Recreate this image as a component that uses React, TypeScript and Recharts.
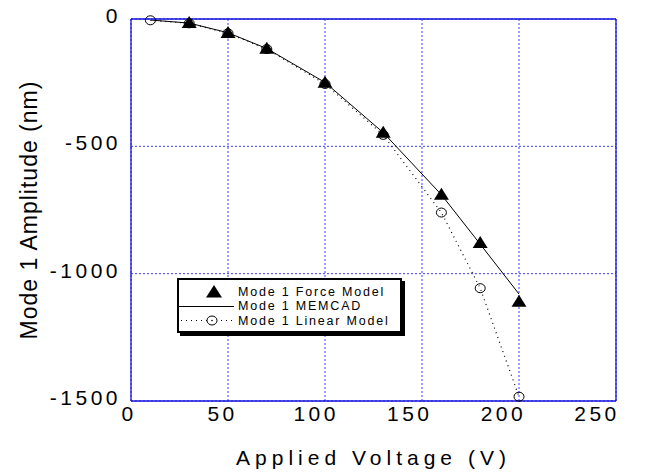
import React from "react";
import {
  ComposedChart,
  Line,
  XAxis,
  YAxis,
  CartesianGrid,
  Legend,
} from "recharts";

// values
const forceVoltage = [30, 50, 70, 100, 130, 160, 180, 200];
const forceAmplitude = [-16, -55, -117, -250, -447, -690, -880, -1110];

const memcadVoltage = [10, 30, 50, 70, 100, 130, 160, 180, 200];
const memcadAmplitude = [-4, -16, -54, -116, -249, -446, -690, -884, -1080];

const linearVoltage = [10, 30, 50, 70, 100, 130, 160, 180, 200];
const linearAmplitude = [-5, -17, -56, -118, -255, -455, -760, -1057, -1483];

const xTicks = [0, 50, 100, 150, 200, 250];
const yTicks = [0, -500, -1000, -1500];
const xMinorTicks = Array.from({ length: 26 }, (_, i) => i * 10);
const yMinorTicks = Array.from({ length: 31 }, (_, i) => -i * 50);

const seriesNames = ["Mode 1 Force Model", "Mode 1 MEMCAD", "Mode 1 Linear Model"];

const toRows = (xs: number[], ys: number[]) => xs.map((v, i) => ({ v, amp: ys[i] }));
const forceData = toRows(forceVoltage, forceAmplitude);
const memcadData = toRows(memcadVoltage, memcadAmplitude);
const linearData = toRows(linearVoltage, linearAmplitude);

const FONT = "'Liberation Sans', Arial, Helvetica, sans-serif";
const AXIS_BLUE = "#1414dc";
const GRID_BLUE = "#3c3cff";

const Triangle = (props: any) => {
  const { cx, cy, index } = props;
  if (cx == null || cy == null) return <g key={index} />;
  return (
    <polygon
      key={index}
      points={`${cx},${cy - 7} ${cx - 7.5},${cy + 5} ${cx + 7.5},${cy + 5}`}
      fill="#000"
    />
  );
};

const OpenCircle = (props: any) => {
  const { cx, cy, index } = props;
  if (cx == null || cy == null) return <g key={index} />;
  return <ellipse key={index} cx={cx} cy={cy} rx={5} ry={4.5} fill="none" stroke="#000" strokeWidth={1} />;
};

// the original's labels drift a little left of their ticks
const XTick = (props: any) => {
  const { x, y, payload } = props;
  const drift = -2 - payload.value * 0.068;
  return (
    <text x={x} y={y} dx={drift} dy={20} textAnchor="middle" fontFamily={FONT} fontSize={21} letterSpacing={3.5} fill="#000">
      {payload.value}
    </text>
  );
};

const YTick = (props: any) => {
  const { x, y, payload } = props;
  return (
    <text x={x} y={y} dy={4} textAnchor="end" fontFamily={FONT} fontSize={21} letterSpacing={3.5} fill="#000">
      {payload.value}
    </text>
  );
};

const XTitle = (props: any) => {
  const vb = props.viewBox;
  return (
    <text
      x={vb.x + vb.width / 2}
      y={vb.y + 64}
      textAnchor="middle"
      fontFamily={FONT}
      fontSize={21}
      letterSpacing={5}
      fill="#000"
    >
      Applied Voltage (V)
    </text>
  );
};

const YTitle = (props: any) => {
  const vb = props.viewBox;
  const cx = vb.x + 37;
  const cy = vb.y + vb.height / 2;
  return (
    <text
      x={cx}
      y={cy}
      transform={`rotate(-90, ${cx}, ${cy})`}
      textAnchor="middle"
      fontFamily={FONT}
      fontSize={23}
      letterSpacing={1}
      fill="#000"
    >
      Mode 1 Amplitude (nm)
    </text>
  );
};

const LegendBox = () => (
  <div
    style={{
      width: 221,
      height: 51,
      border: "2px solid #000",
      boxShadow: "3px 3px 0 #000",
      background: "#fff",
      fontFamily: FONT,
      fontSize: 12.5,
      letterSpacing: 1.8,
      color: "#000",
      position: "relative",
    }}
  >
    {seriesNames.map((name, i) => (
      <div
        key={name}
        style={{ position: "absolute", left: 0, top: 4 + i * 14.5, height: 15, display: "flex", alignItems: "center" }}
      >
        <svg width={58} height={15} style={{ display: "block" }}>
          {i === 0 && <polygon points="35,1 27,13.5 43,13.5" fill="#000" />}
          {i === 1 && <line x1={0} y1={7.5} x2={55} y2={7.5} stroke="#000" strokeWidth={1} />}
          {i === 2 && (
            <g>
              <line x1={2} y1={7.5} x2={55} y2={7.5} stroke="#000" strokeWidth={1.2} strokeDasharray="1 4" />
              <ellipse cx={33} cy={7.5} rx={5} ry={4.5} fill="#fff" stroke="#000" />
              <circle cx={33} cy={7.5} r={0.8} fill="#000" />
            </g>
          )}
        </svg>
        <span style={{ marginLeft: 1, whiteSpace: "nowrap" }}>{name}</span>
      </div>
    ))}
  </div>
);

export default function App() {
  return (
    <div style={{ position: "absolute", left: 0, top: 0, background: "#fff" }}>
      <ComposedChart width={649} height={475} margin={{ top: 19, right: 33, bottom: 0, left: 0 }}>
        <CartesianGrid
          xAxisId="x"
          yAxisId="y"
          stroke={GRID_BLUE}
          strokeDasharray="2 2"
          strokeWidth={1}
        />
        <XAxis
          xAxisId="x"
          dataKey="v"
          type="number"
          domain={[0, 250]}
          ticks={xTicks}
          interval={0}
          height={74}
          axisLine={false}
          tickLine={false}
          tickSize={0}
          tickMargin={0}
          tick={<XTick />}
          label={<XTitle />}
        />
        <XAxis
          xAxisId="xb"
          dataKey="v"
          type="number"
          orientation="bottom"
          mirror
          domain={[0, 250]}
          ticks={xMinorTicks}
          interval={0}
          tick={false}
          tickSize={4}
          stroke={AXIS_BLUE}
          strokeWidth={1.3}
        />
        <XAxis
          xAxisId="xt"
          dataKey="v"
          type="number"
          orientation="top"
          mirror
          domain={[0, 250]}
          ticks={xMinorTicks}
          interval={0}
          tick={false}
          tickSize={4}
          stroke={AXIS_BLUE}
          strokeWidth={1.3}
        />
        <YAxis
          yAxisId="y"
          type="number"
          domain={[-1500, 0]}
          ticks={yTicks}
          interval={0}
          width={131}
          axisLine={false}
          tickLine={false}
          tickSize={0}
          tickMargin={10}
          tick={<YTick />}
          label={<YTitle />}
        />
        <YAxis
          yAxisId="yl"
          type="number"
          orientation="left"
          mirror
          domain={[-1500, 0]}
          ticks={yMinorTicks}
          interval={0}
          tick={false}
          tickSize={4}
          stroke={AXIS_BLUE}
          strokeWidth={1.3}
        />
        <YAxis
          yAxisId="yr"
          type="number"
          orientation="right"
          mirror
          domain={[-1500, 0]}
          ticks={yMinorTicks}
          interval={0}
          tick={false}
          tickSize={4}
          stroke={AXIS_BLUE}
          strokeWidth={1.3}
        />
        <Line
          xAxisId="x"
          yAxisId="y"
          data={linearData}
          dataKey="amp"
          name={seriesNames[2]}
          type="linear"
          stroke="#000"
          strokeWidth={1.2}
          strokeDasharray="1 4"
          dot={(p: any) => <OpenCircle key={p.index} {...p} />}
          isAnimationActive={false}
        />
        <Line
          xAxisId="x"
          yAxisId="y"
          data={memcadData}
          dataKey="amp"
          name={seriesNames[1]}
          type="linear"
          stroke="#000"
          strokeWidth={1}
          dot={false}
          isAnimationActive={false}
        />
        <Line
          xAxisId="x"
          yAxisId="y"
          data={forceData}
          dataKey="amp"
          name={seriesNames[0]}
          type="linear"
          stroke="none"
          dot={(p: any) => <Triangle key={p.index} {...p} />}
          isAnimationActive={false}
        />
        <Legend
          layout="vertical"
          align="center"
          verticalAlign="middle"
          content={<LegendBox />}
          wrapperStyle={{ left: 177, top: 278, width: 225, height: 55 }}
        />
      </ComposedChart>
    </div>
  );
}
